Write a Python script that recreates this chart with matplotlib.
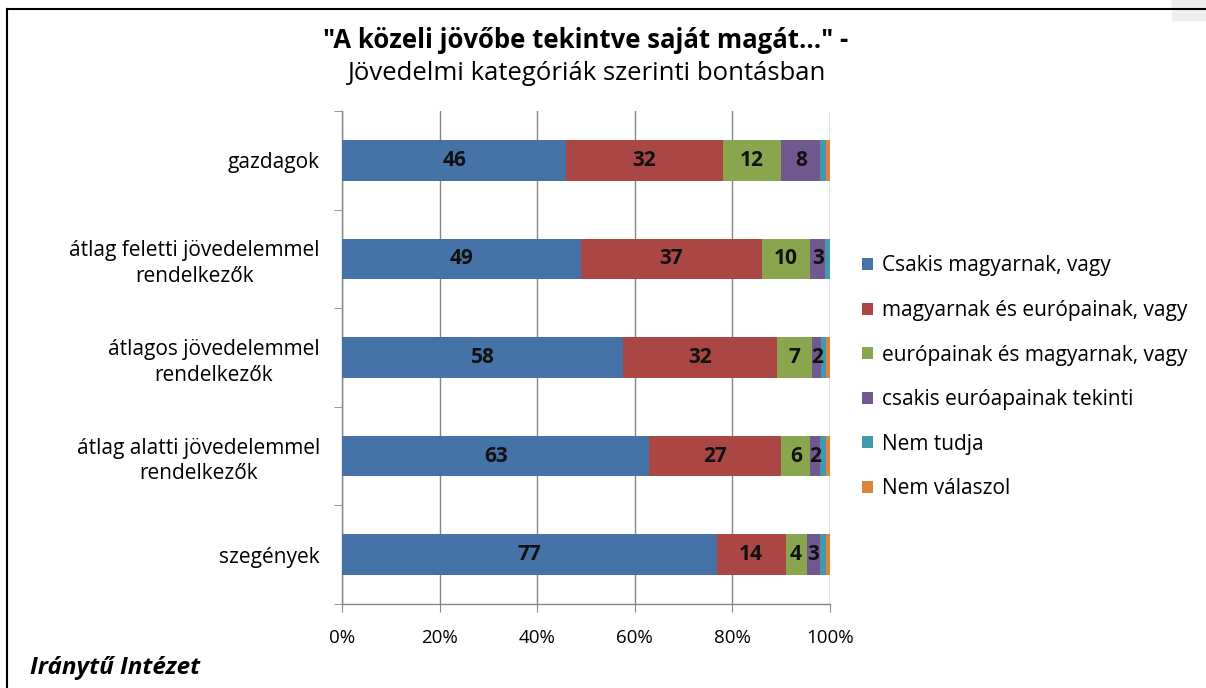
import numpy as np
import matplotlib.pyplot as plt
from matplotlib.patches import Rectangle
from matplotlib.lines import Line2D

plt.rcParams['font.family'] = ['Open Sans', 'DejaVu Sans']

# Adatok
categories = ['gazdagok',
              'átlag feletti jövedelemmel\nrendelkezők',
              'átlagos jövedelemmel\nrendelkezők',
              'átlag alatti jövedelemmel\nrendelkezők',
              'szegények']
series_names = ['Csakis magyarnak, vagy',
                'magyarnak és európainak, vagy',
                'európainak és magyarnak, vagy',
                'csakis euróapainak tekinti',
                'Nem tudja',
                'Nem válaszol']
csakis_magyar = [46, 49, 57.6, 63, 76.8]
magyar_europai = [32, 37, 31.6, 27, 14.1]
europai_magyar = [12, 10, 7.2, 6, 4.3]
csakis_europai = [8, 3, 1.8, 2, 2.8]
nem_tudja = [1.2, 1.0, 1.0, 1.2, 1.2]
nem_valaszol = [0.8, 0.0, 0.8, 0.8, 0.8]
x_ticks = [0, 20, 40, 60, 80, 100]
x_ticklabels = ['0%', '20%', '40%', '60%', '80%', '100%']

colors = ['#4572A7', '#AA4643', '#89A54E', '#71588F', '#4198AF', '#DB843D']
series = [csakis_magyar, magyar_europai, europai_magyar, csakis_europai, nem_tudja, nem_valaszol]

fig = plt.figure(figsize=(12.06, 6.88), dpi=100)
ax = fig.add_axes([342 / 1206, 1 - 604 / 688, 488 / 1206, 493 / 688])

y = np.arange(len(categories))
left = np.zeros(len(categories))
for i, vals in enumerate(series):
    vals = np.array(vals)
    ax.barh(y, vals, left=left, height=0.41, color=colors[i], label=series_names[i], zorder=3)
    if i < 4:
        for yy, l, v in zip(y, left, vals):
            ax.text(l + v / 2, yy, f'{v:.0f}', ha='center', va='center',
                    fontsize=15, fontweight='bold', color='#111111', zorder=4)
    left += vals

ax.set_xlim(0, 100)
ax.set_ylim(len(categories) - 0.5, -0.5)
ax.set_xticks(x_ticks)
ax.set_xticklabels(x_ticklabels, fontsize=13.5)
ax.set_yticks(y)
ax.set_yticklabels(categories, fontsize=15, multialignment='center', linespacing=1.3)
ax.set_yticks(np.arange(len(categories) + 1) - 0.5, minor=True)
ax.tick_params(axis='y', which='major', length=0, pad=16)
ax.tick_params(axis='y', which='minor', length=6, color='#868686')
ax.tick_params(axis='x', length=6, color='#868686', pad=12)
ax.grid(axis='x', color='#868686', linewidth=1, zorder=0)
for s in ['top', 'right']:
    ax.spines[s].set_visible(False)
for s in ['left', 'bottom']:
    ax.spines[s].set_color('#868686')
    ax.spines[s].set_linewidth(1)

# Legenda
ax.legend(loc='upper left', bbox_to_anchor=(852 / 1206, 1 - 245 / 688),
          bbox_transform=fig.transFigure, frameon=False, fontsize=15, borderpad=0,
          handlelength=0.5, handleheight=0.5, handletextpad=0.45, labelspacing=1.13)

# Cím
fig.text(0.486, 1 - 40 / 688, '"A közeli jövőbe tekintve saját magát..." -',
         ha='center', va='center', fontsize=18.5, fontweight='bold')
fig.text(0.486, 1 - 74 / 688, 'Jövedelmi kategóriák szerinti bontásban',
         ha='center', va='center', fontsize=18.5)
fig.text(30 / 1206, 1 - 668 / 688, 'Iránytű Intézet', ha='left', va='center',
         fontsize=17.5, fontweight='bold', fontstyle='italic')

# Keret
fig.patches.append(Rectangle((1172 / 1206, 1 - 20 / 688), 34 / 1206, 20 / 688,
                             transform=fig.transFigure, color='#efefef', zorder=0))
fig.lines.append(Line2D([7 / 1206, 1], [1 - 9 / 688, 1 - 9 / 688], transform=fig.transFigure,
                        color='black', linewidth=1.5))
fig.lines.append(Line2D([7 / 1206, 7 / 1206], [0, 1 - 9 / 688], transform=fig.transFigure,
                        color='black', linewidth=1.5))

fig.savefig('out.png', dpi=100)
